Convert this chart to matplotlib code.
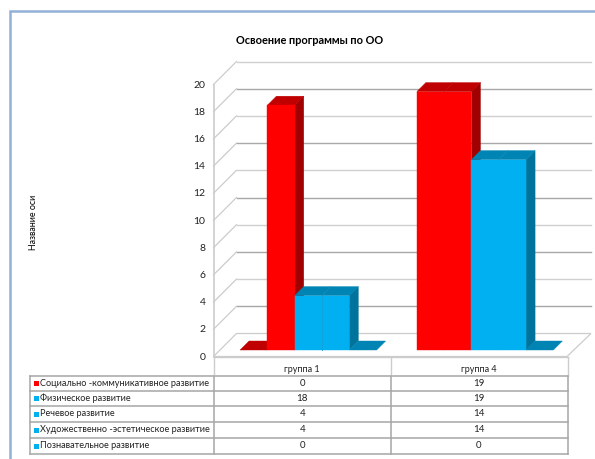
import matplotlib
matplotlib.use("Agg")
import matplotlib.pyplot as plt
from matplotlib.patches import Polygon, Rectangle

plt.rcParams['font.family'] = ['Lato', 'Noto Sans', 'DejaVu Sans']

title = 'Освоение программы по ОО'
y_title = 'Название оси'
groups = ['группа 1', 'группа 4']
series = ['Социально -коммуникативное развитие', 'Физическое развитие', 'Речевое развитие',
          'Художественно -эстетическое развитие', 'Познавательное развитие']
values_1 = [0, 18, 4, 4, 0]
values_4 = [19, 19, 14, 14, 0]
y_ticks = [0, 2, 4, 6, 8, 10, 12, 14, 16, 18, 20]

RED = ('#ff0000', '#c00000', '#a00000')
BLUE = ('#00b0f0', '#0084b4', '#00739c')
bar_colors = [RED, RED, BLUE, BLUE, BLUE]
legend_colors = ['#ff0000', '#00b0f0', '#00b0f0', '#00b0f0', '#00b0f0']

# the whole figure is one axes in pixels, the 3d look is done by hand
fig = plt.figure(figsize=(5.95, 4.59), dpi=100)
ax = fig.add_axes([0, 0, 1, 1])
ax.set_xlim(0, 595)
ax.set_ylim(459, 0)
ax.axis('off')

# outer frame
ax.plot([10, 10, 600], [470, 11, 11], color='#93b1d8', lw=1.8, solid_joinstyle='miter')

X0, X1 = 213.5, 567
Y0 = 356.5
UNIT = 13.6
WALL = 23
DEPTH = 9
BAR_W = 27.3
BAR_OFF = 6.5


def val_y(v):
    return Y0 - v * UNIT


# floor and walls
ax.add_patch(Polygon([(X0, Y0), (X0 + WALL, Y0 - WALL), (X1 + WALL + 1, Y0 - WALL), (X1, Y0)],
                     closed=True, fc='white', ec='#cccccc', lw=0.9))
for t in y_ticks:
    y = val_y(t)
    c = '#a8a8a8' if t in (2, 6, 10, 14, 18) else '#d0d0d0'
    if t > 0:
        ax.plot([X0, X0 + WALL], [y, y - WALL], color='#cccccc', lw=0.9)
        ax.plot([X0 + WALL, X1 + WALL + 1], [y - WALL, y - WALL], color=c, lw=1)
    ax.text(X0 - 8, y + 0.5, str(t), ha='right', va='center', fontsize=7.5, color='#222222')
ax.plot([X0, X0], [val_y(20), Y0], color='#cccccc', lw=1.2)


def draw_bar(x, v, col, next_v):
    top = val_y(v) - BAR_OFF
    base = Y0 - BAR_OFF
    if v > next_v:
        ax.add_patch(Polygon([(x + BAR_W, top), (x + BAR_W + DEPTH, top - DEPTH),
                              (x + BAR_W + DEPTH, base - DEPTH), (x + BAR_W, base)],
                             closed=True, fc=col[2], ec=col[2], lw=0.3, zorder=3))
    ax.add_patch(Polygon([(x, top), (x + DEPTH, top - DEPTH), (x + BAR_W + DEPTH, top - DEPTH),
                          (x + BAR_W, top)], closed=True, fc=col[1], ec=col[1], lw=0.3, zorder=3))
    if v > 0:
        ax.add_patch(Rectangle((x, top), BAR_W, base - top, fc=col[0], ec=col[0], lw=0.3, zorder=3))


cat_w = (X1 - X0) / len(groups)
for g, vals in enumerate([values_1, values_4]):
    start = X0 + BAR_OFF + cat_w * (g + 0.5) - BAR_W * len(vals) / 2
    for i, v in enumerate(vals):
        next_v = vals[i + 1] if i + 1 < len(vals) else 0
        draw_bar(start + i * BAR_W, v, bar_colors[i], next_v)

# faint line between the two blue bars of the first group
x_sep = X0 + BAR_OFF + cat_w * 0.5 + BAR_W / 2
ax.plot([x_sep, x_sep], [val_y(values_1[2]) - BAR_OFF, Y0 - BAR_OFF], color='#12a0d8', lw=0.6, zorder=4)

# data table
GRID = '#a6a6a6'
T_LEFT = 30
row_y = [376, 391, 406, 422, 438, 454]
col_x = [214, 390.5, 567.5]
for y in row_y:
    ax.plot([T_LEFT, col_x[-1]], [y, y], color=GRID, lw=1.1)
ax.plot([T_LEFT, T_LEFT], [row_y[0], row_y[-1]], color=GRID, lw=1.1)
for x in col_x:
    ax.plot([x, x], [Y0, row_y[0]], color='#cccccc', lw=1)
    ax.plot([x, x], [row_y[0], row_y[-1]], color=GRID, lw=1.1)
ax.plot([col_x[0], col_x[-1]], [Y0, Y0], color='#cccccc', lw=1)

for j, name in enumerate(groups):
    ax.text((col_x[j] + col_x[j + 1]) / 2, 369, name, ha='center', va='center', fontsize=6.5, color='#222222')

for i, name in enumerate(series):
    y = (row_y[i] + row_y[i + 1]) / 2
    ax.add_patch(Rectangle((34, y - 2.5), 5, 5, fc=legend_colors[i], ec='none'))
    ax.text(40, y - 0.5, name, ha='left', va='center', fontsize=6.6, color='#222222')
    ax.text((col_x[0] + col_x[1]) / 2, y, str(values_1[i]), ha='center', va='center', fontsize=7, color='#222222')
    ax.text((col_x[1] + col_x[2]) / 2, y, str(values_4[i]), ha='center', va='center', fontsize=7, color='#222222')

ax.text(309.5, 40, title, ha='center', va='center', fontsize=7.9, fontweight='bold', color='black')
ax.text(33, 222, y_title, rotation=90, ha='center', va='center', fontsize=6.4, color='black')

fig.savefig('out.png', dpi=100)
